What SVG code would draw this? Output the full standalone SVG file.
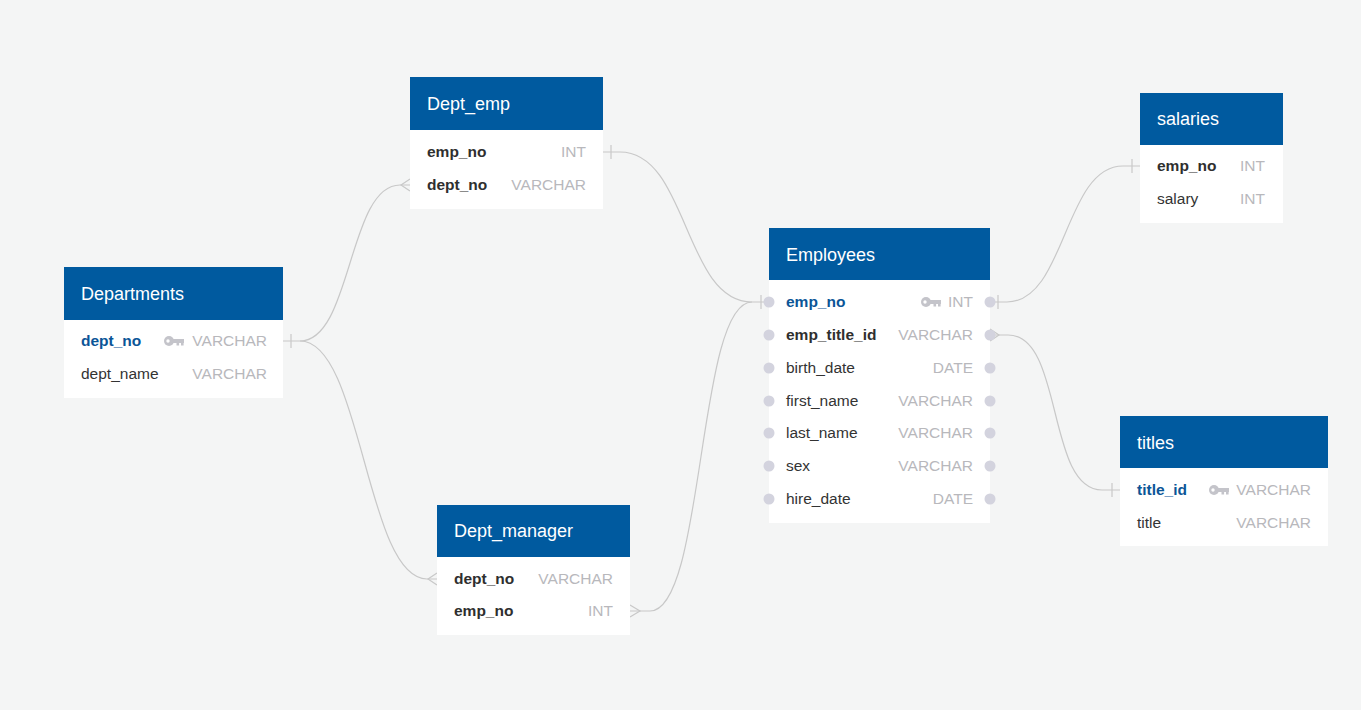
<svg xmlns="http://www.w3.org/2000/svg" width="1361" height="710" viewBox="0 0 1361 710">
<defs>
<style>
.body{fill:#ffffff;}
.head{fill:#005a9f;}
.ht{font-family:"Liberation Sans",Arial,sans-serif;font-size:18px;fill:#ffffff;}
.f{font-family:"Liberation Sans",Arial,sans-serif;font-size:15.5px;fill:#333333;}
.pk{font-weight:bold;fill:#0b5597;}
.fk{font-weight:bold;fill:#2f2f2f;}
.t{font-family:"Liberation Sans",Arial,sans-serif;font-size:15.5px;fill:#b8b8bc;text-anchor:end;}
.c{fill:none;stroke:#c8c8c8;stroke-width:1.2;}
.dot{fill:#d3d3de;}
.key{fill:#c4c4ca;}
</style>
<g id="keyicon">
<circle cx="5" cy="0" r="5" class="key"/>
<rect x="7" y="-2" width="13" height="4" class="key"/>
<rect x="12.5" y="0" width="2.6" height="4.5" class="key"/>
<rect x="17" y="0" width="2.6" height="4.5" class="key"/>
<circle cx="4" cy="0" r="1.7" fill="#ffffff"/>
</g>
</defs>
<rect x="0" y="0" width="1361" height="710" fill="#f4f5f5"/>

<g id="connectors">
<path class="c" d="M283,341 H300 C352,341 348,185 400,185 H410"/>
<path class="c" d="M291,334 V348"/>
<path class="c" d="M410,179 L401,185 L410,191"/>
<path class="c" d="M300,341 C362,341 366,579 427,579 H437"/>
<path class="c" d="M437,573 L428,579 L437,585"/>
<path class="c" d="M603,152 H620 C688,152 684,302 752,302 H769"/>
<path class="c" d="M611,145 V159"/>
<path class="c" d="M761,295 V309"/>
<path class="c" d="M630,611 H650 C705,611 697,302 752,302"/>
<path class="c" d="M630,605 L640,611 L630,617"/>
<path class="c" d="M990,302 H1007 C1066,302 1064,166 1123,166 H1140"/>
<path class="c" d="M998,295 V309"/>
<path class="c" d="M1132,159 V173"/>
<path class="c" d="M990,335 H1008 C1064,335 1046,490 1102,490 H1120"/>
<path class="c" d="M990,329 L999,335 L990,341"/>
<path class="c" d="M1112,483 V497"/>
</g>

<g id="Departments">
<rect class="body" x="64" y="267" width="219" height="131"/>
<rect class="head" x="64" y="267" width="219" height="53"/>
<text class="ht" x="81" y="300">Departments</text>
<text class="f pk" x="81" y="346">dept_no</text>
<use href="#keyicon" x="164" y="341"/>
<text class="t" x="267" y="346">VARCHAR</text>
<text class="f" x="81" y="379">dept_name</text>
<text class="t" x="267" y="379">VARCHAR</text>
</g>

<g id="Dept_emp">
<rect class="body" x="410" y="77" width="193" height="132"/>
<rect class="head" x="410" y="77" width="193" height="53"/>
<text class="ht" x="427" y="110">Dept_emp</text>
<text class="f fk" x="427" y="157">emp_no</text>
<text class="t" x="586" y="157">INT</text>
<text class="f fk" x="427" y="190">dept_no</text>
<text class="t" x="586" y="190">VARCHAR</text>
</g>

<g id="Dept_manager">
<rect class="body" x="437" y="505" width="193" height="130"/>
<rect class="head" x="437" y="505" width="193" height="52"/>
<text class="ht" x="454" y="537">Dept_manager</text>
<text class="f fk" x="454" y="584">dept_no</text>
<text class="t" x="613" y="584">VARCHAR</text>
<text class="f fk" x="454" y="616">emp_no</text>
<text class="t" x="613" y="616">INT</text>
</g>

<g id="Employees">
<rect class="body" x="769" y="228" width="221" height="295"/>
<rect class="head" x="769" y="228" width="221" height="52"/>
<text class="ht" x="786" y="261">Employees</text>
<text class="f pk" x="786" y="307">emp_no</text>
<use href="#keyicon" x="921" y="302"/>
<text class="t" x="973" y="307">INT</text>
<text class="f fk" x="786" y="340">emp_title_id</text>
<text class="t" x="973" y="340">VARCHAR</text>
<text class="f" x="786" y="373">birth_date</text>
<text class="t" x="973" y="373">DATE</text>
<text class="f" x="786" y="406">first_name</text>
<text class="t" x="973" y="406">VARCHAR</text>
<text class="f" x="786" y="438">last_name</text>
<text class="t" x="973" y="438">VARCHAR</text>
<text class="f" x="786" y="471">sex</text>
<text class="t" x="973" y="471">VARCHAR</text>
<text class="f" x="786" y="504">hire_date</text>
<text class="t" x="973" y="504">DATE</text>
<circle class="dot" cx="769" cy="302" r="5.5"/>
<circle class="dot" cx="769" cy="335" r="5.5"/>
<circle class="dot" cx="769" cy="368" r="5.5"/>
<circle class="dot" cx="769" cy="401" r="5.5"/>
<circle class="dot" cx="769" cy="433" r="5.5"/>
<circle class="dot" cx="769" cy="466" r="5.5"/>
<circle class="dot" cx="769" cy="499" r="5.5"/>
<circle class="dot" cx="990" cy="302" r="5.5"/>
<circle class="dot" cx="990" cy="335" r="5.5"/>
<circle class="dot" cx="990" cy="368" r="5.5"/>
<circle class="dot" cx="990" cy="401" r="5.5"/>
<circle class="dot" cx="990" cy="433" r="5.5"/>
<circle class="dot" cx="990" cy="466" r="5.5"/>
<circle class="dot" cx="990" cy="499" r="5.5"/>
</g>

<g id="salaries">
<rect class="body" x="1140" y="93" width="143" height="130"/>
<rect class="head" x="1140" y="93" width="143" height="52"/>
<text class="ht" x="1157" y="125">salaries</text>
<text class="f fk" x="1157" y="171">emp_no</text>
<text class="t" x="1265" y="171">INT</text>
<text class="f" x="1157" y="204">salary</text>
<text class="t" x="1265" y="204">INT</text>
</g>

<g id="titles">
<rect class="body" x="1120" y="416" width="208" height="130"/>
<rect class="head" x="1120" y="416" width="208" height="52"/>
<text class="ht" x="1137" y="449">titles</text>
<text class="f pk" x="1137" y="495">title_id</text>
<use href="#keyicon" x="1209" y="490"/>
<text class="t" x="1311" y="495">VARCHAR</text>
<text class="f" x="1137" y="528">title</text>
<text class="t" x="1311" y="528">VARCHAR</text>
</g>
</svg>
